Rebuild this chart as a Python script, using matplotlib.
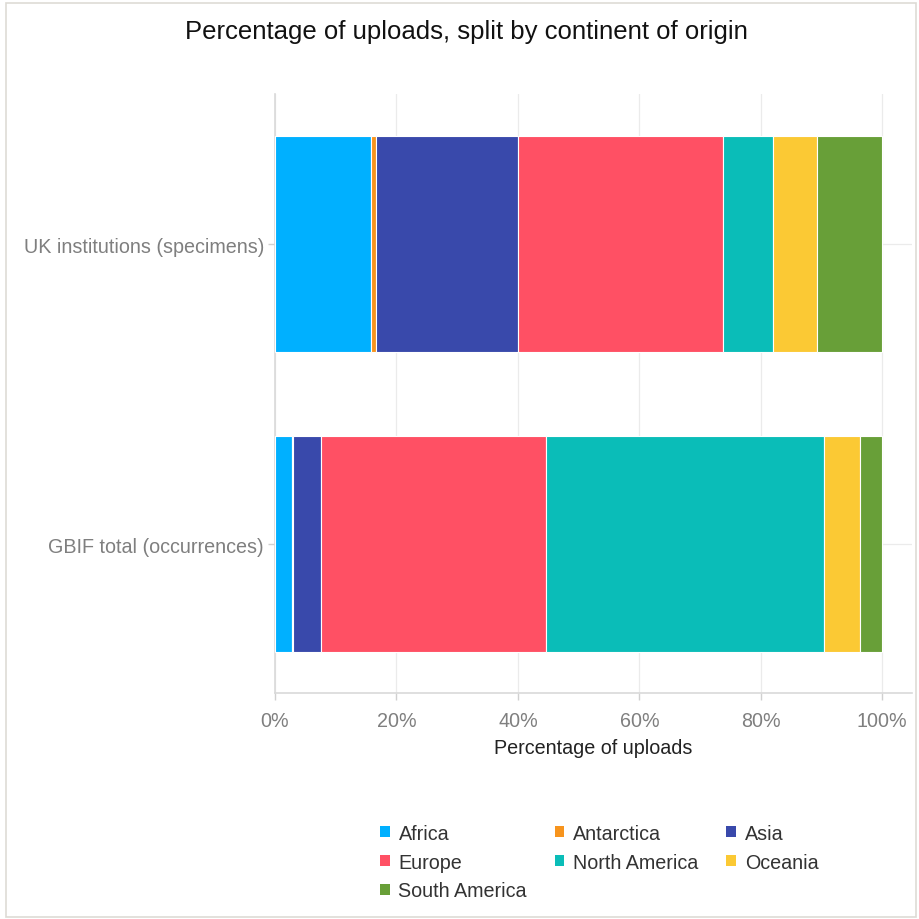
import matplotlib
matplotlib.use("Agg")
import matplotlib.pyplot as plt
from matplotlib.patches import Patch, Rectangle
from matplotlib.ticker import FuncFormatter
import numpy as np

plt.rcParams['font.family'] = ['Liberation Sans', 'DejaVu Sans']

# data (percent of uploads per continent)
groups = ["GBIF total (occurrences)", "UK institutions (specimens)"]
continents = ["Africa", "Antarctica", "Asia", "Europe",
              "North America", "Oceania", "South America"]
gbif_total = [2.8, 0.1, 4.7, 37.1, 45.7, 5.9, 3.7]
uk_institutions = [15.8, 0.9, 23.3, 33.8, 8.2, 7.2, 10.8]
colors = ["#00B0FF", "#F7941D", "#3949AB", "#FF5064",
          "#0ABDB8", "#FBC934", "#689F38"]

values = np.array([gbif_total, uk_institutions])

fig = plt.figure(figsize=(9.19, 9.20), dpi=100)
ax = fig.add_axes([275 / 919, 1 - 694 / 920, 637 / 919, 599 / 920])

ypos = np.arange(len(groups))
left = np.zeros(len(groups))
for i, name in enumerate(continents):
    ax.barh(ypos, values[:, i], left=left, height=0.72, color=colors[i],
            edgecolor="white", linewidth=0.8, label=name, zorder=3)
    left += values[:, i]

ax.set_xlim(0, 104.9)
ax.set_ylim(-0.495, 1.5)
ax.set_xticks([0, 20, 40, 60, 80, 100])
ax.xaxis.set_major_formatter(FuncFormatter(lambda v, p: f"{v:.0f}%"))
ax.set_yticks(ypos)
ax.set_yticklabels(groups)

ax.grid(True, color="#ebebeb", linewidth=0.9, zorder=0)
ax.set_axisbelow(True)
for s in ["top", "right"]:
    ax.spines[s].set_visible(False)
for s in ["left", "bottom"]:
    ax.spines[s].set_color("#d9d9d9")
    ax.spines[s].set_linewidth(1.2)
ax.tick_params(axis="both", colors="#d0d0d0", length=5, width=1,
               labelcolor="#7f7f7f", labelsize=14.2)
ax.tick_params(axis="x", pad=8)
ax.tick_params(axis="y", pad=3)

ax.set_xlabel("Percentage of uploads", fontsize=14.2, color="#222222", labelpad=6)

fig.text(466 / 919, 1 - 32 / 920, "Percentage of uploads, split by continent of origin",
         ha="center", va="center", fontsize=18.5, color="#111111")

# legend is filled column by column, so reorder to read row by row
order = [0, 3, 6, 1, 4, 2, 5]
handles = [Patch(facecolor=colors[k], edgecolor="none") for k in order]
labels = [continents[k] for k in order]
fig.legend(handles, labels, ncol=3, loc="upper left",
           bbox_to_anchor=(362 / 919, 1 - 807 / 920), frameon=False,
           fontsize=14.2, handlelength=0.5, handleheight=0.5, handletextpad=0.45,
           columnspacing=1.4, labelspacing=0.5, labelcolor="#333333")

# light border around the whole picture
fig.patches.append(Rectangle((6 / 919, 2 / 920), 910 / 919, 914 / 920,
                             transform=fig.transFigure, fill=False,
                             edgecolor="#dedbd5", linewidth=1.2))

fig.savefig("out.png", dpi=100)
